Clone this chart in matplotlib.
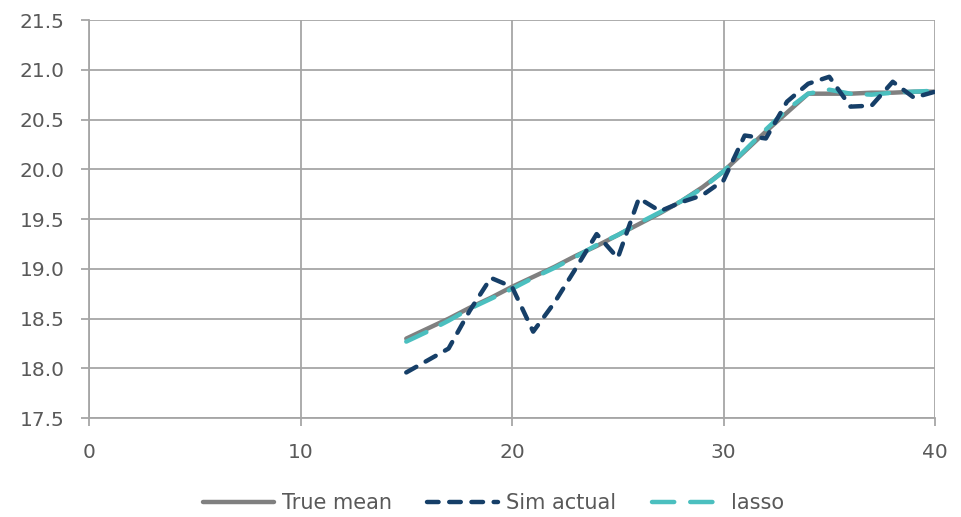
import matplotlib
matplotlib.use("Agg")
import matplotlib.pyplot as plt

# Period index (x) and the three series
periods = list(range(15, 41))
true_mean = [18.30, 18.40, 18.50, 18.61, 18.71, 18.82, 18.92, 19.02, 19.13, 19.23,
             19.34, 19.45, 19.56, 19.68, 19.82, 19.98, 20.18, 20.38, 20.57, 20.76,
             20.76, 20.76, 20.77, 20.77, 20.78, 20.78]
sim_actual = [17.96, 18.08, 18.20, 18.58, 18.91, 18.82, 18.37, 18.66, 19.00, 19.35,
              19.11, 19.71, 19.58, 19.67, 19.74, 19.89, 20.34, 20.31, 20.68, 20.86,
              20.93, 20.63, 20.64, 20.88, 20.72, 20.78]
lasso = [18.27, 18.37, 18.48, 18.60, 18.70, 18.80, 18.91, 19.01, 19.12, 19.24,
         19.34, 19.46, 19.57, 19.68, 19.81, 19.98, 20.19, 20.40, 20.60, 20.76,
         20.80, 20.76, 20.75, 20.77, 20.78, 20.79]

x_ticks = [0, 10, 20, 30, 40]
y_ticks = [17.5, 18.0, 18.5, 19.0, 19.5, 20.0, 20.5, 21.0, 21.5]

grid_col = "#a6a6a6"
text_col = "#595959"

fig = plt.figure(figsize=(9.62, 5.17), dpi=100)
ax = fig.add_axes([0.0925, 0.191, 0.8795, 0.7703])

ax.plot(periods, true_mean, color="#808080", lw=3.2, solid_capstyle="round",
        label="True mean", zorder=3)
ax.plot(periods, lasso, color="#4bbfbf", lw=3.2, dashes=(5, 3.6),
        dash_capstyle="round", label="lasso", zorder=4)
ax.plot(periods, sim_actual, color="#163f68", lw=3.2, dashes=(2.6, 2.4),
        dash_capstyle="round", label="Sim actual", zorder=5)

ax.set_xlim(0, 40)
ax.set_ylim(17.5, 21.5)
ax.set_xticks(x_ticks)
ax.set_yticks(y_ticks)
ax.set_yticklabels([f"{v:.1f}" for v in y_ticks])
ax.grid(True, color=grid_col, lw=1.3, zorder=0)

for side in ("top", "right"):
    ax.spines[side].set_visible(False)
for side in ("left", "bottom"):
    ax.spines[side].set_color(grid_col)
    ax.spines[side].set_linewidth(1.3)

ax.tick_params(axis="both", colors=grid_col, length=5.5, width=1.3,
               labelcolor=text_col, labelsize=14.5)
ax.tick_params(axis="y", pad=12)
ax.tick_params(axis="x", pad=12)

handles, labels = ax.get_legend_handles_labels()
order = [0, 2, 1]
fig.legend([handles[i] for i in order], [labels[i] for i in order],
           loc="center", bbox_to_anchor=(0.513, 14 / 517), ncol=3,
           frameon=False, fontsize=15, handlelength=3.4, columnspacing=1.7,
           handletextpad=0.4, labelcolor=text_col, borderpad=0.0)

fig.savefig("out.png", dpi=100)
